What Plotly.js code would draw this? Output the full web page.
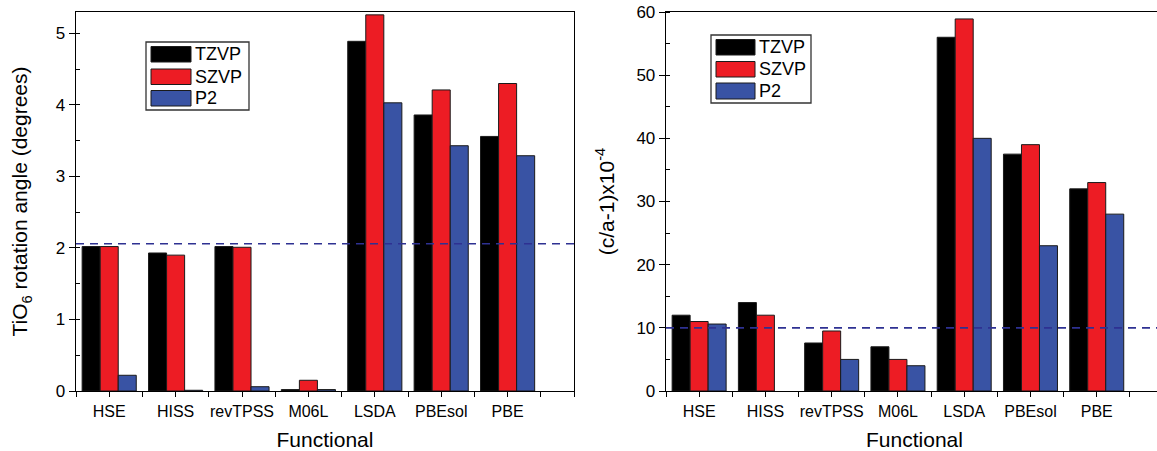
<!DOCTYPE html>
<html>
<head>
<meta charset="utf-8">
<script src="https://cdn.plot.ly/plotly-3.0.1.min.js"></script>
<style>
  html, body { margin: 0; padding: 0; overflow: hidden; background: #fff; }
  #chart { width: 1165px; height: 451px; }
</style>
</head>
<body>
<div id="chart"></div>
<script>
// ---------- data ----------
const functionals = ["HSE", "HISS", "revTPSS", "M06L", "LSDA", "PBEsol", "PBE"];
const basisSets = ["TZVP", "SZVP", "P2"];

// TiO6 rotation angle (degrees)
const angleTZVP = [2.02, 1.93, 2.02, 0.02, 4.89, 3.86, 3.56];
const angleSZVP = [2.02, 1.90, 2.01, 0.15, 5.26, 4.21, 4.30];
const angleP2   = [0.22, 0.01, 0.06, 0.02, 4.03, 3.43, 3.29];
const angleReference = 2.06;

// (c/a-1) x 10^-4
const ratioTZVP = [12.0, 14.0, 7.6, 7.0, 56.0, 37.5, 32.0];
const ratioSZVP = [11.0, 12.0, 9.5, 5.0, 58.9, 39.0, 33.0];
const ratioP2   = [10.6, null, 5.0, 4.0, 40.0, 23.0, 28.0];
const ratioReference = 10.0;

// ---------- styling ----------
const W = 1165, H = 451;
const colors = { TZVP: "#000000", SZVP: "#ED1C24", P2: "#3953A4" };
const FONT = "Liberation Sans, Arial, Helvetica, sans-serif";
const px = v => v / W;
const py = v => 1 - v / H;

const positions = functionals.map((_, i) => i + 1);

const seriesLeft  = { TZVP: angleTZVP, SZVP: angleSZVP, P2: angleP2 };
const seriesRight = { TZVP: ratioTZVP, SZVP: ratioSZVP, P2: ratioP2 };

const traces = [];
basisSets.forEach(b => {
  traces.push({
    type: "bar", name: b, x: positions, y: seriesLeft[b], xaxis: "x", yaxis: "y",
    marker: { color: colors[b], line: { color: "#1a1a1a", width: 1 } },
    showlegend: false, hovertemplate: b + ": %{y}<extra></extra>"
  });
});
basisSets.forEach(b => {
  traces.push({
    type: "bar", name: b, x: positions, y: seriesRight[b], xaxis: "x2", yaxis: "y2",
    marker: { color: colors[b], line: { color: "#1a1a1a", width: 1 } },
    showlegend: false, hovertemplate: b + ": %{y}<extra></extra>"
  });
});

const yDomain = [py(391), py(12)];
const leftDomain = [px(76), px(574)];
const rightDomain = [px(666), px(1163)];
const xRange = [0.5, 8];

function xAxis(domain, anchor) {
  return {
    domain: domain, anchor: anchor, range: xRange,
    tickmode: "array", tickvals: positions, ticktext: functionals,
    ticks: "outside", ticklen: 5, tickwidth: 1, tickcolor: "#000",
    minor: { tickmode: "linear", tick0: 0.5, dtick: 0.5, ticks: "outside", ticklen: 5, tickwidth: 1, tickcolor: "#000" },
    showline: true, linecolor: "#000", linewidth: 1.3, mirror: true,
    showgrid: false, zeroline: false,
    tickfont: { family: FONT, size: 16, color: "#000" },
    title: { text: "Functional", font: { family: FONT, size: 21, color: "#000" }, standoff: 14 },
    automargin: false
  };
}
function yAxis(domain, anchor, range, dtick, minor, title, standoff) {
  return {
    domain: domain, anchor: anchor, range: range,
    tickmode: "linear", tick0: 0, dtick: dtick,
    ticks: "outside", ticklen: 6, tickwidth: 1, tickcolor: "#000",
    minor: { tickmode: "linear", tick0: 0, dtick: minor, ticks: "inside", ticklen: 4, tickwidth: 1, tickcolor: "#000" },
    showline: true, linecolor: "#000", linewidth: 1.3, mirror: true,
    showgrid: false, zeroline: false,
    tickfont: { family: FONT, size: 17, color: "#000" },
    title: { text: title, font: { family: FONT, size: 21, color: "#000" }, standoff: standoff },
    automargin: false
  };
}
// inside ticks on the mirrored (top / right) sides
function topAxis(base, anchor) {
  return {
    overlaying: base, anchor: anchor, side: "top", range: xRange,
    tickmode: "linear", tick0: 0.5, dtick: 0.5, ticks: "inside", ticklen: 3, tickwidth: 1, tickcolor: "#000",
    showticklabels: false, showline: false, showgrid: false, zeroline: false, automargin: false
  };
}
function rightAxis(base, anchor, range, dtick) {
  return {
    overlaying: base, anchor: anchor, side: "right", range: range,
    tickmode: "linear", tick0: 0, dtick: dtick, ticks: "inside", ticklen: 3, tickwidth: 1, tickcolor: "#000",
    showticklabels: false, showline: false, showgrid: false, zeroline: false, automargin: false
  };
}

// reference lines and legends (boxes + labels)
const shapes = [
  { type: "line", xref: "x domain", yref: "y", x0: 0, x1: 1, y0: angleReference, y1: angleReference,
    line: { color: "#2E3192", width: 1.6, dash: "8px,6px" } },
  { type: "line", xref: "x2 domain", yref: "y2", x0: 0, x1: 1, y0: ratioReference, y1: ratioReference,
    line: { color: "#2E3192", width: 1.6, dash: "8px,6px" } }
];
const annotations = [];
function addLegend(box, sw, rows, textX) {
  shapes.push({ type: "rect", xref: "paper", yref: "paper",
    x0: px(box[0]), x1: px(box[1]), y0: py(box[3]), y1: py(box[2]),
    line: { color: "#333", width: 1.3 }, fillcolor: "#fff" });
  basisSets.forEach((b, i) => {
    shapes.push({ type: "rect", xref: "paper", yref: "paper",
      x0: px(sw[0]), x1: px(sw[1]), y0: py(rows[i][1]), y1: py(rows[i][0]),
      line: { color: "#1a1a1a", width: 1 }, fillcolor: colors[b] });
    annotations.push({ xref: "paper", yref: "paper", x: px(textX), y: py((rows[i][0] + rows[i][1]) / 2),
      xanchor: "left", yanchor: "middle", showarrow: false, text: b,
      font: { family: FONT, size: 18, color: "#000" } });
  });
}
addLegend([146, 249, 42, 110], [151, 191], [[46.5, 62], [69, 84.5], [90.5, 106]], 193);
addLegend([711, 811, 35, 103], [716, 755], [[39.5, 55], [61.5, 77], [83, 99]], 757);

const layout = {
  width: W, height: H,
  margin: { l: 0, r: 0, t: 0, b: 0, pad: 0 },
  paper_bgcolor: "#fff", plot_bgcolor: "#fff",
  barmode: "group", bargap: 0.185, bargroupgap: 0,
  font: { family: FONT, color: "#000" },
  showlegend: false,
  xaxis: xAxis(leftDomain, "y"),
  yaxis: yAxis(yDomain, "x", [0, 5.3], 1, 0.5, "TiO<sub>6</sub> rotation angle (degrees)", 22),
  xaxis2: xAxis(rightDomain, "y2"),
  yaxis2: yAxis(yDomain, "x2", [0, 60], 10, 5, "(c/a-1)x10<sup>-4</sup>", 16),
  xaxis3: topAxis("x", "y"),
  yaxis3: rightAxis("y", "x", [0, 5.3], 0.5),
  xaxis4: topAxis("x2", "y2"),
  yaxis4: rightAxis("y2", "x2", [0, 60], 5),
  shapes: shapes,
  annotations: annotations
};

Plotly.newPlot("chart", traces, layout, { displayModeBar: false, staticPlot: true });
</script>
</body>
</html>
